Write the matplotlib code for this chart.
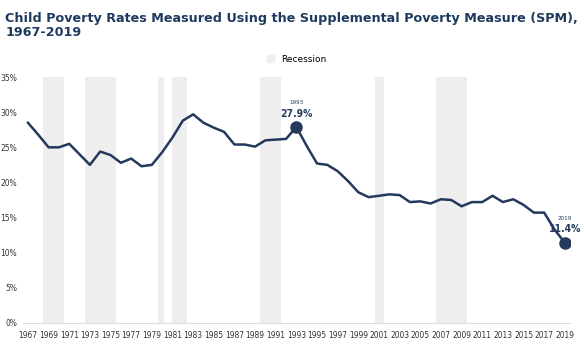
import numpy as np
import matplotlib.pyplot as plt
from matplotlib.patches import Patch
from matplotlib import font_manager as fm

years = list(range(1967, 2020))
rates = [28.5, 26.8, 25.0, 25.0, 25.5, 24.0, 22.5, 24.4, 23.9, 22.8,
         23.4, 22.3, 22.5, 24.3, 26.4, 28.8, 29.7, 28.5, 27.8, 27.2,
         25.4, 25.4, 25.1, 26.0, 26.1, 26.2, 27.9, 25.2, 22.7, 22.5,
         21.6, 20.2, 18.6, 17.9, 18.1, 18.3, 18.2, 17.2, 17.3, 17.0,
         17.6, 17.5, 16.6, 17.2, 17.2, 18.1, 17.2, 17.6, 16.8, 15.7,
         15.7, 13.3, 11.4]
recessions = [(1968.5, 1970.5), (1972.5, 1975.5), (1979.55, 1980.2),
              (1980.95, 1982.45), (1989.5, 1991.5), (2000.6, 2001.5),
              (2006.5, 2009.5)]
yticks = [0, 5, 10, 15, 20, 25, 30, 35]
highlights = [1993, 2019]

navy = "#24395c"
band = "#eeeeee"

# look for an upright condensed face, otherwise use Liberation Sans
narrow = None
for f in fm.fontManager.ttflist:
    if f.style == "normal" and ("Narrow" in f.name or "Condensed" in f.name
                                or f.stretch == "condensed"):
        narrow = f
        break
if narrow is not None:
    cond = fm.FontProperties(family=narrow.name, stretch=narrow.stretch, style="normal")
    condb = fm.FontProperties(family=narrow.name, stretch=narrow.stretch,
                              style="normal", weight="bold")
    tick_fs = 6.0
else:
    cond = fm.FontProperties(family="Liberation Sans")
    condb = fm.FontProperties(family="Liberation Sans", weight="bold")
    tick_fs = 5.2

fig = plt.figure(figsize=(5.84, 3.49), dpi=100)
ax = fig.add_axes([0.039, 0.075, 0.937, 0.704])

for a, b in recessions:
    ax.axvspan(a, b, color=band, lw=0, zorder=0)

ax.plot(years, rates, color=navy, lw=1.8, zorder=3)
for yr in highlights:
    v = rates[years.index(yr)]
    ax.plot(yr, v, "o", color=navy, ms=8, zorder=4)
    ax.annotate(f"{v:.1f}%", (yr, v), xytext=(0, 6), textcoords="offset points",
                ha="center", va="bottom", fontproperties=condb, fontsize=7.5,
                color=navy)
    ax.annotate(str(yr), (yr, v), xytext=(0, 15.5), textcoords="offset points",
                ha="center", va="bottom", fontproperties=cond, fontsize=4.5,
                color=navy)

ax.set_xlim(1966.5, 2019.5)
ax.set_ylim(0, 35)
ax.set_yticks(yticks)
ax.set_yticklabels([f"{t}%" for t in yticks], fontproperties=cond, fontsize=tick_fs,
                   color="#333333")
ax.set_xticks(years[::2])
ax.set_xticklabels([str(y) for y in years[::2]], fontproperties=cond, fontsize=tick_fs,
                   color="#333333")
ax.tick_params(length=0, pad=6)
ax.tick_params(axis="y", pad=4)
for s in ["top", "right", "left"]:
    ax.spines[s].set_visible(False)
ax.spines["bottom"].set_color("#dddddd")
ax.spines["bottom"].set_linewidth(0.8)

ax.legend(handles=[Patch(color=band, label="Recession")], loc="lower center",
          bbox_to_anchor=(0.5, 1.02), frameon=False, fontsize=6.5,
          handlelength=0.8, handleheight=0.8, handletextpad=0.8)

fig.text(0.009, 0.965, "Child Poverty Rates Measured Using the Supplemental Poverty Measure (SPM),\n1967-2019",
         ha="left", va="top", fontsize=9.2, fontweight="bold", color="#1f3a5f",
         linespacing=1.1)

fig.savefig("out.png", dpi=100)
